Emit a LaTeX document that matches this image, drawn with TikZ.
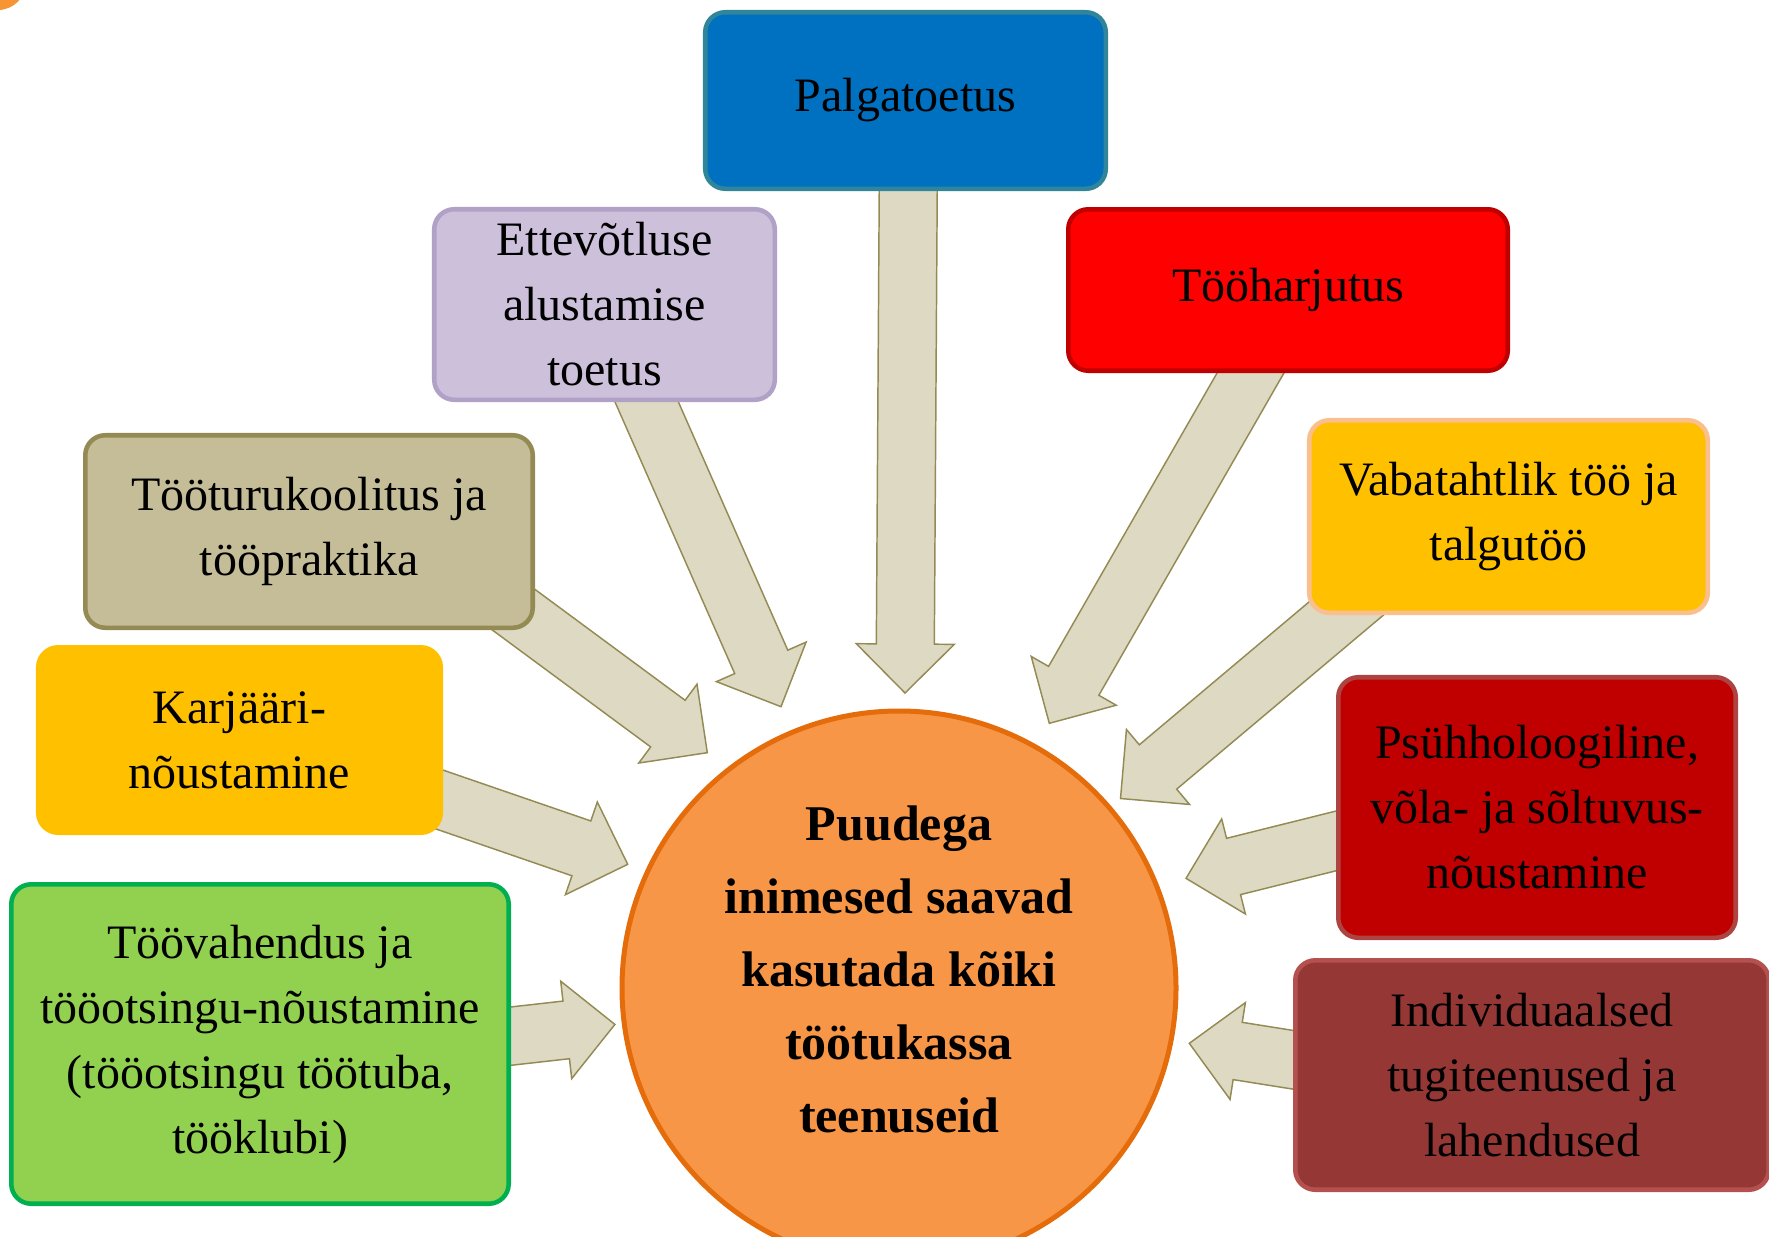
\documentclass[tikz,border=0pt]{standalone}
\usepackage{fontspec}
\setmainfont{Liberation Serif}
\usetikzlibrary{calc}

% block arrow from a tail coordinate to a tip coordinate
\newcommand{\fatarrow}[2]{%
  \coordinate (fa-b) at ($(#2)!36.75pt!(#1)$);
  \draw [fatarrow] ($(#1)!21.75pt!90:(#2)$) -- ($(fa-b)!21.75pt!90:(#2)$) -- ($(fa-b)!36.75pt!90:(#2)$) -- (#2) -- ($(fa-b)!36.75pt!-90:(#2)$) -- ($(fa-b)!21.75pt!-90:(#2)$) -- ($(#1)!21.75pt!-90:(#2)$) -- cycle ;
}

\tikzset{every picture/.style={line width=0.75pt}}
\tikzset{
  box/.style={rectangle, rounded corners=15pt, line width=3.4pt, align=center, inner sep=0pt, text=black, font=\fontsize{36}{48.75}\selectfont},
  fatarrow/.style={draw={rgb, 255:red, 148; green, 138; blue, 84}, fill={rgb, 255:red, 221; green, 217; blue, 195}, line width=1.1pt, line join=miter},
  hub/.style={circle, draw={rgb, 255:red, 228; green, 108; blue, 10}, fill={rgb, 255:red, 247; green, 150; blue, 70}, line width=3.75pt, inner sep=0pt},
  hubtext/.style={align=center, inner sep=0pt, text=black, font=\fontsize{37.5}{54.75}\selectfont\bfseries},
}

\begin{document}
\begin{tikzpicture}[x=0.75pt,y=0.75pt,yscale=-1,xscale=1]
\useasboundingbox (0,0) rectangle (1769,1236);
\clip (0,0) rectangle (1769,1236);

%Shape: Circle (corner)
\fill [color={rgb, 255:red, 247; green, 148; blue, 51 }] (-2,-18) circle (28);

%Arrow ends
\coordinate (palga-tail) at (908.5,150);   \coordinate (palga-tip) at (905,693);
\coordinate (ettev-tail) at (635.7,377);   \coordinate (ettev-tip) at (781,706.7);
\coordinate (koolit-tail) at (466,574.5);  \coordinate (koolit-tip) at (707.3,752.7);
\coordinate (karj-tail) at (362.5,773);    \coordinate (karj-tip) at (627.7,864.3);
\coordinate (vahend-tail) at (416,1046.8); \coordinate (vahend-tip) at (614.9,1024.4);
\coordinate (harj-tail) at (1268.4,341.8); \coordinate (harj-tip) at (1049.3,723.3);
\coordinate (vaba-tail) at (1395.9,566.7); \coordinate (vaba-tip) at (1120.5,798.5);
\coordinate (psyh-tail) at (1399.4,825.1); \coordinate (psyh-tip) at (1186,878.3);
\coordinate (indiv-tail) at (1406.7,1077.8); \coordinate (indiv-tip) at (1189.3,1043.3);

%Block Arrows
\foreach \n in {palga,ettev,koolit,karj,vahend,harj,vaba,psyh,indiv}
  \fatarrow{\n-tail}{\n-tip};

%Shape: Circle
\node [hub, minimum size=415.5pt] (hub) at (899,988) {};
% Text Node
\node [hubtext] (hubtext) at (899,969) {Puudega\\inimesed saavad\\kasutada kõiki\\töötukassa\\teenuseid};

%Shape: Rounded Rect
\node [box, fill={rgb, 255:red, 0; green, 112; blue, 192 }, draw={rgb, 255:red, 49; green, 133; blue, 155 }, minimum width=300.4pt, minimum height=132.4pt] (palga) at (905.5,100.5) {Palgatoetus};
%Shape: Rounded Rect
\node [box, fill={rgb, 255:red, 204; green, 192; blue, 218 }, draw={rgb, 255:red, 178; green, 161; blue, 199 }, minimum width=255.4pt, minimum height=142.9pt] (ettev) at (604.5,304.5) {Ettevõtluse\\alustamise\\toetus};
%Shape: Rounded Rect
\node [box, fill={rgb, 255:red, 255; green, 0; blue, 0 }, draw={rgb, 255:red, 192; green, 0; blue, 0 }, minimum width=329.6pt, minimum height=121.1pt] (harj) at (1288,290) {Tööharjutus};
%Shape: Rounded Rect
\node [box, fill={rgb, 255:red, 255; green, 192; blue, 0 }, draw={rgb, 255:red, 250; green, 191; blue, 143 }, minimum width=298.9pt, minimum height=144.4pt] (vaba) at (1508.5,516.5) {Vabatahtlik töö ja\\talgutöö};
%Shape: Rounded Rect
\node [box, fill={rgb, 255:red, 196; green, 189; blue, 151 }, draw={rgb, 255:red, 148; green, 138; blue, 84 }, minimum width=335.6pt, minimum height=144.4pt] (koolit) at (309,531.5) {Tööturukoolitus ja\\tööpraktika};
%Shape: Rounded Rect
\node [box, fill={rgb, 255:red, 255; green, 192; blue, 0 }, draw={rgb, 255:red, 255; green, 192; blue, 0 }, minimum width=301.9pt, minimum height=139.1pt] (karj) at (239.5,740) {Karjääri-\\nõustamine};
%Shape: Rounded Rect
\node [box, fill={rgb, 255:red, 146; green, 208; blue, 80 }, draw={rgb, 255:red, 0; green, 176; blue, 80 }, minimum width=373.1pt, minimum height=239.6pt] (vahend) at (260,1044) {Töövahendus ja\\tööotsingu-nõustamine\\(tööotsingu töötuba,\\tööklubi)};
%Shape: Rounded Rect
\node [box, fill={rgb, 255:red, 192; green, 0; blue, 0 }, draw={rgb, 255:red, 174; green, 68; blue, 66 }, minimum width=298.1pt, minimum height=195.4pt] (psyh) at (1537,807.5) {Psühholoogiline,\\võla- ja sõltuvus-\\nõustamine};
%Shape: Rounded Rect
\node [box, fill={rgb, 255:red, 149; green, 55; blue, 53 }, draw={rgb, 255:red, 180; green, 80; blue, 78 }, minimum width=355.1pt, minimum height=172.1pt] (indiv) at (1532,1075) {Individuaalsed\\tugiteenused ja\\lahendused};

\end{tikzpicture}
\end{document}
